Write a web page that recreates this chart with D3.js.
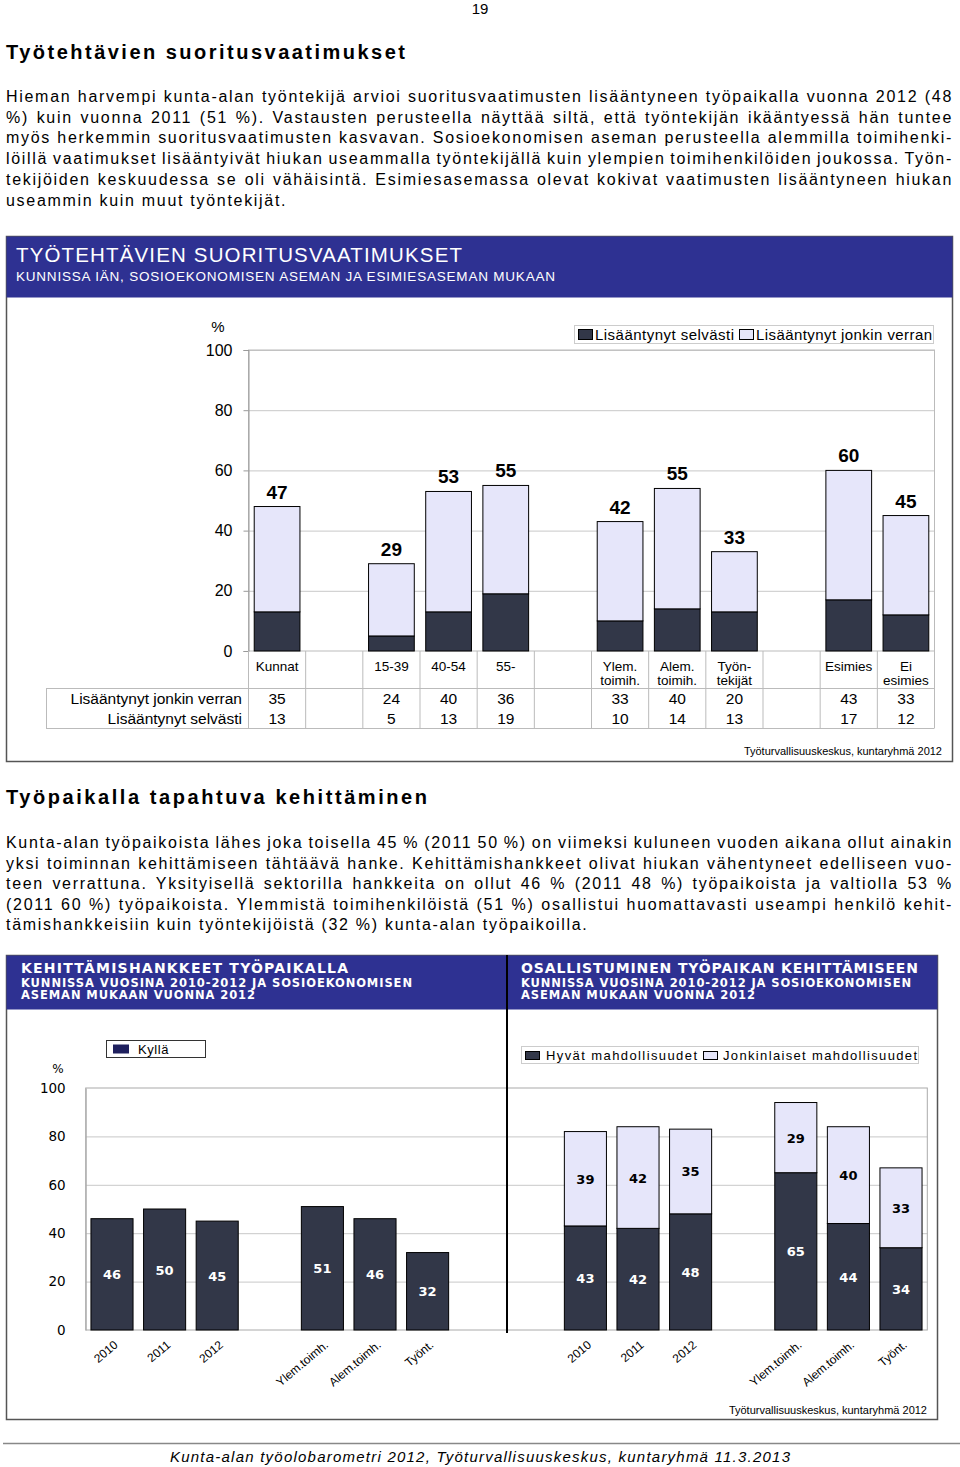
<!DOCTYPE html>
<html><head><meta charset="utf-8">
<script src="https://cdn.jsdelivr.net/npm/d3@7/dist/d3.min.js"></script>
<style>
html,body{margin:0;padding:0;background:#fff;}
svg{display:block;font-family:"Liberation Sans",Arial,sans-serif;}
text{fill:#000;}
</style></head>
<body>
<svg id="page" width="960" height="1467"></svg>
<script>
// ---------- DATA ----------
const para1 = [
 "Hieman harvempi kunta-alan työntekijä arvioi suoritusvaatimusten lisääntyneen työpaikalla vuonna 2012 (48",
 "%) kuin vuonna 2011 (51 %). Vastausten perusteella näyttää siltä, että työntekijän ikääntyessä hän tuntee",
 "myös herkemmin suoritusvaatimusten kasvavan. Sosioekonomisen aseman perusteella alemmilla toimihenki-",
 "löillä vaatimukset lisääntyivät hiukan useammalla työntekijällä kuin ylempien toimihenkilöiden joukossa. Työn-",
 "tekijöiden keskuudessa se oli vähäisintä. Esimiesasemassa olevat kokivat vaatimusten lisääntyneen hiukan",
 "useammin kuin muut työntekijät."
];
const para2 = [
 "Kunta-alan työpaikoista lähes joka toisella 45 % (2011 50 %) on viimeksi kuluneen vuoden aikana ollut ainakin",
 "yksi toiminnan kehittämiseen tähtäävä hanke. Kehittämishankkeet olivat hiukan vähentyneet edelliseen vuo-",
 "teen verrattuna. Yksityisellä sektorilla hankkeita on ollut 46 % (2011 48 %) työpaikoista ja valtiolla 53 %",
 "(2011 60 %) työpaikoista. Ylemmistä toimihenkilöistä (51 %) osallistui huomattavasti useampi henkilö kehit-",
 "tämishankkeisiin kuin työntekijöistä (32 %) kunta-alan työpaikoilla."
];

// Chart 1
const categories1 = ["Kunnat", "", "15-39", "40-54", "55-", "", "Ylem.|toimih.", "Alem.|toimih.", "Työn-|tekijät", "", "Esimies", "Ei|esimies"];
const selvasti = [13, null, 5, 13, 19, null, 10, 14, 13, null, 17, 12];
const jonkinVerran = [35, null, 24, 40, 36, null, 33, 40, 20, null, 43, 33];
const totals1 = [47, null, 29, 53, 55, null, 42, 55, 33, null, 60, 45];
const yTicks = [0, 20, 40, 60, 80, 100];
const series1Names = ["Lisääntynyt selvästi", "Lisääntynyt jonkin verran"];

// Chart 2
const categories2 = ["2010", "2011", "2012", "", "Ylem.toimh.", "Alem.toimh.", "Työnt."];
const kylla = [46, 50, 45, null, 51, 46, 32];
const hyvat = [43, 42, 48, null, 65, 44, 34];
const jonkinlaiset = [39, 42, 35, null, 29, 40, 33];
const series2Names = ["Hyvät mahdollisuudet", "Jonkinlaiset mahdollisuudet"];

// ---------- STYLE ----------
const BLUE = "#2e3192", DARK = "#323748", LIGHT = "#e6e6fa", NAVY = "#1f205e", GRID = "#c8c8c8";
const WIDE = "'DejaVu Sans', Verdana, sans-serif";

const svg = d3.select("#page");

function fit(sel, w) { sel.attr("textLength", w).attr("lengthAdjust", "spacing"); return sel; }
function justify(sel, w) {
  const node = sel.node();
  const spaces = (node.textContent.match(/ /g) || []).length;
  if (!spaces) return;
  let ws = 0;
  for (let k = 0; k < 3; k++) {
    const len = node.getComputedTextLength();
    ws += (w - len) / spaces;
    sel.style("word-spacing", ws + "px");
  }
}

// page number
svg.append("text").attr("x", 480).attr("y", 14).attr("text-anchor", "middle").attr("font-size", 15).text("19");

// heading 1
fit(svg.append("text").attr("x", 6).attr("y", 59).attr("font-size", 20).attr("font-weight", "bold")
  .text("Työtehtävien suoritusvaatimukset"), 399);

function paragraph(lines, y0, lh) {
  lines.forEach((l, i) => {
    const t = svg.append("text").attr("x", 6).attr("y", y0 + i * lh).attr("font-size", 16)
      .style("letter-spacing", "1.7px").text(l);
    if (i < lines.length - 1) justify(t, 947);
  });
}
paragraph(para1, 102, 20.7);

// ---------- CHART 1 ----------
const c1 = svg.append("g");
c1.append("rect").attr("x", 6.5).attr("y", 236.5).attr("width", 946).attr("height", 525)
  .attr("fill", "#fff").attr("stroke", "#555").attr("stroke-width", 1.5);
c1.append("rect").attr("x", 6.5).attr("y", 236.5).attr("width", 946).attr("height", 61).attr("fill", BLUE);
fit(c1.append("text").attr("x", 16).attr("y", 262).attr("font-size", 20.5)
  .style("fill", "#fff").text("TYÖTEHTÄVIEN SUORITUSVAATIMUKSET"), 446);
fit(c1.append("text").attr("x", 16).attr("y", 281).attr("font-size", 13.5).style("fill", "#fff")
  .text("KUNNISSA IÄN, SOSIOEKONOMISEN ASEMAN JA ESIMIESASEMAN MUKAAN"), 539);

const x1 = d3.scaleBand().domain(d3.range(categories1.length)).range([248.5, 934.5]).paddingInner(0.2).paddingOuter(0.1);
const y1 = d3.scaleLinear().domain([0, 100]).range([651, 350]);

// grid
c1.append("g").attr("transform", "translate(248.5,0)")
  .call(d3.axisLeft(y1).tickValues(yTicks.slice(1)).tickSize(-(934.5 - 248.5)).tickFormat(""))
  .call(g => g.select(".domain").remove())
  .call(g => g.selectAll("line").attr("stroke", GRID));
c1.append("rect").attr("x", 248.5).attr("y", 350).attr("width", 686).attr("height", 301)
  .attr("fill", "none").attr("stroke", "#bbb");
// axis
c1.append("g").attr("transform", "translate(248.5,0)")
  .call(d3.axisLeft(y1).tickValues(yTicks).tickSize(5).tickPadding(11))
  .call(g => g.select(".domain").attr("stroke", "#999"))
  .call(g => g.selectAll("line").attr("stroke", "#999"))
  .call(g => g.selectAll("text").style("font-size", "16px").style("font-family", "'Liberation Sans', Arial"));
c1.append("text").attr("x", 218).attr("y", 332).attr("text-anchor", "middle").attr("font-size", 15).text("%");

// bars
const idx1 = d3.range(categories1.length).filter(i => selvasti[i] != null);
c1.selectAll(".b1d").data(idx1).join("rect")
  .attr("x", i => x1(i)).attr("width", x1.bandwidth())
  .attr("y", i => y1(selvasti[i])).attr("height", i => y1(0) - y1(selvasti[i]))
  .attr("fill", DARK).attr("stroke", "#000").attr("stroke-width", 1);
c1.selectAll(".b1l").data(idx1).join("rect")
  .attr("x", i => x1(i)).attr("width", x1.bandwidth())
  .attr("y", i => y1(selvasti[i] + jonkinVerran[i])).attr("height", i => y1(selvasti[i]) - y1(selvasti[i] + jonkinVerran[i]))
  .attr("fill", LIGHT).attr("stroke", "#000").attr("stroke-width", 1);
c1.selectAll(".lab1").data(idx1).join("text")
  .attr("x", i => x1(i) + x1.bandwidth() / 2).attr("y", i => y1(selvasti[i] + jonkinVerran[i]) - 8)
  .attr("text-anchor", "middle").attr("font-size", 19).attr("font-weight", "bold")
  .text(i => totals1[i]);

// legend
const lg1 = c1.append("g");
lg1.append("rect").attr("x", 574.5).attr("y", 325.5).attr("width", 359).attr("height", 18)
  .attr("fill", "#fff").attr("stroke", "#ccc");
lg1.append("rect").attr("x", 578.5).attr("y", 329.5).attr("width", 14).attr("height", 10).attr("fill", DARK).attr("stroke", "#000");
fit(lg1.append("text").attr("x", 595).attr("y", 339.5).attr("font-size", 15).text(series1Names[0]), 139);
lg1.append("rect").attr("x", 739.5).attr("y", 329.5).attr("width", 14).attr("height", 10).attr("fill", LIGHT).attr("stroke", "#000");
fit(lg1.append("text").attr("x", 756).attr("y", 339.5).attr("font-size", 15).text(series1Names[1]), 176);

// table
const tbl = c1.append("g").attr("stroke", "#bbb").attr("stroke-width", 1);
d3.range(categories1.length + 1).forEach(i => {
  const xb = x1.range()[0] + i * x1.step();
  tbl.append("line").attr("x1", xb).attr("x2", xb).attr("y1", 651).attr("y2", 728);
});
tbl.append("line").attr("x1", 46).attr("x2", 934.5).attr("y1", 688.5).attr("y2", 688.5);
tbl.append("line").attr("x1", 46).attr("x2", 934.5).attr("y1", 728.5).attr("y2", 728.5);
tbl.append("line").attr("x1", 46.5).attr("x2", 46.5).attr("y1", 688.5).attr("y2", 728.5);

categories1.forEach((c, i) => {
  if (!c) return;
  const cx = x1(i) + x1.bandwidth() / 2;
  c.split("|").forEach((p, k) => {
    c1.append("text").attr("x", cx).attr("y", 671 + k * 14).attr("text-anchor", "middle")
      .attr("font-size", 13.5).text(p);
  });
});
const rows1 = [[series1Names[1], jonkinVerran], [series1Names[0], selvasti]];
rows1.forEach(([name, vals], r) => {
  const yy = 703.5 + r * 20;
  c1.append("text").attr("x", 242).attr("y", yy).attr("text-anchor", "end").attr("font-size", 15.5).text(name);
  vals.forEach((v, i) => {
    if (v == null) return;
    c1.append("text").attr("x", x1(i) + x1.bandwidth() / 2).attr("y", yy).attr("text-anchor", "middle")
      .attr("font-size", 15.5).text(v);
  });
});
c1.append("text").attr("x", 942).attr("y", 755).attr("text-anchor", "end").attr("font-size", 11)
  .text("Työturvallisuuskeskus, kuntaryhmä 2012");

// heading 2
fit(svg.append("text").attr("x", 6).attr("y", 804).attr("font-size", 20).attr("font-weight", "bold")
  .text("Työpaikalla tapahtuva kehittäminen"), 421);
paragraph(para2, 848, 20.5);

// ---------- CHART 2 ----------
const c2 = svg.append("g");
c2.append("rect").attr("x", 6.5).attr("y", 955.5).attr("width", 931).attr("height", 464)
  .attr("fill", "#fff").attr("stroke", "#555").attr("stroke-width", 1.5);
c2.append("rect").attr("x", 6.5).attr("y", 955.5).attr("width", 500).attr("height", 54).attr("fill", BLUE);
c2.append("rect").attr("x", 507.5).attr("y", 955.5).attr("width", 430).attr("height", 54).attr("fill", BLUE);
const heads = [
  [21, ["KEHITTÄMISHANKKEET  TYÖPAIKALLA", "KUNNISSA VUOSINA 2010-2012 JA SOSIOEKONOMISEN", "ASEMAN MUKAAN VUONNA 2012"], [327, 391, 234]],
  [521, ["OSALLISTUMINEN TYÖPAIKAN KEHITTÄMISEEN", "KUNNISSA VUOSINA 2010-2012 JA SOSIOEKONOMISEN", "ASEMAN MUKAAN VUONNA 2012"], [397, 390, 234]]
];
heads.forEach(([hx, lines, ws]) => {
  lines.forEach((l, k) => {
    fit(c2.append("text").attr("x", hx).attr("y", k === 0 ? 973 : 986.5 + (k - 1) * 12.5)
      .style("font-family", WIDE)
      .attr("font-size", k === 0 ? 14 : 11.5).attr("font-weight", "bold").style("fill", "#fff").text(l), ws[k]);
  });
});

const x2 = d3.scaleBand().domain(d3.range(16)).range([85.7, 927.3]).paddingInner(0.2).paddingOuter(0.1);
const y2 = d3.scaleLinear().domain([0, 100]).range([1330, 1088]);
const RIGHT_OFFSET = 9;

c2.append("g").attr("transform", "translate(85.7,0)")
  .call(d3.axisLeft(y2).tickValues(yTicks.slice(1, 5)).tickSize(-(927.3 - 85.7)).tickFormat(""))
  .call(g => g.select(".domain").remove())
  .call(g => g.selectAll("line").attr("stroke", GRID));
c2.append("rect").attr("x", 85.7).attr("y", 1088).attr("width", 841.6).attr("height", 242)
  .attr("fill", "none").attr("stroke", "#aaa");
c2.append("g").attr("transform", "translate(85.7,0)")
  .call(d3.axisLeft(y2).tickValues(yTicks).tickSize(0).tickPadding(20))
  .call(g => g.select(".domain").attr("stroke", "#aaa"))
  .call(g => g.selectAll("text").style("font-size", "13.5px").style("font-family", WIDE));
c2.append("text").attr("x", 58).attr("y", 1073).attr("text-anchor", "middle").attr("font-size", 12)
  .style("font-family", WIDE).text("%");

// divider
c2.append("line").attr("x1", 507).attr("x2", 507).attr("y1", 955).attr("y2", 1333)
  .attr("stroke", "#000").attr("stroke-width", 2);

// left bars
const idxL = d3.range(categories2.length).filter(i => kylla[i] != null);
c2.selectAll(".bL").data(idxL).join("rect")
  .attr("x", i => x2(i)).attr("width", x2.bandwidth())
  .attr("y", i => y2(kylla[i])).attr("height", i => y2(0) - y2(kylla[i]))
  .attr("fill", DARK).attr("stroke", "#000");
c2.selectAll(".lL").data(idxL).join("text")
  .attr("x", i => x2(i) + x2.bandwidth() / 2).attr("y", i => (y2(kylla[i]) + y2(0)) / 2 + 5)
  .attr("text-anchor", "middle").attr("font-size", 13).attr("font-weight", "bold")
  .style("font-family", WIDE).style("fill", "#fff").text(i => kylla[i]);

// right bars
const idxR = d3.range(categories2.length).filter(i => hyvat[i] != null);
c2.selectAll(".bRd").data(idxR).join("rect")
  .attr("x", i => x2(i + RIGHT_OFFSET)).attr("width", x2.bandwidth())
  .attr("y", i => y2(hyvat[i])).attr("height", i => y2(0) - y2(hyvat[i]))
  .attr("fill", DARK).attr("stroke", "#000");
c2.selectAll(".bRl").data(idxR).join("rect")
  .attr("x", i => x2(i + RIGHT_OFFSET)).attr("width", x2.bandwidth())
  .attr("y", i => y2(hyvat[i] + jonkinlaiset[i])).attr("height", i => y2(hyvat[i]) - y2(hyvat[i] + jonkinlaiset[i]))
  .attr("fill", LIGHT).attr("stroke", "#000");
c2.selectAll(".lRd").data(idxR).join("text")
  .attr("x", i => x2(i + RIGHT_OFFSET) + x2.bandwidth() / 2).attr("y", i => (y2(hyvat[i]) + y2(0)) / 2 + 5)
  .attr("text-anchor", "middle").attr("font-size", 13).attr("font-weight", "bold")
  .style("font-family", WIDE).style("fill", "#fff").text(i => hyvat[i]);
c2.selectAll(".lRl").data(idxR).join("text")
  .attr("x", i => x2(i + RIGHT_OFFSET) + x2.bandwidth() / 2)
  .attr("y", i => (y2(hyvat[i]) + y2(hyvat[i] + jonkinlaiset[i])) / 2 + 5)
  .attr("text-anchor", "middle").attr("font-size", 13).attr("font-weight", "bold")
  .style("font-family", WIDE).text(i => jonkinlaiset[i]);

// x labels
[0, RIGHT_OFFSET].forEach(off => {
  categories2.forEach((c, i) => {
    if (!c) return;
    const cx = x2(i + off) + x2.bandwidth() / 2 + 4;
    c2.append("text").attr("transform", `translate(${cx},1343) rotate(-40)`)
      .attr("text-anchor", "end").attr("dy", "0.35em").attr("font-size", 12).text(c);
  });
});

// legends
c2.append("rect").attr("x", 106.5).attr("y", 1040.5).attr("width", 99).attr("height", 17)
  .attr("fill", "#fff").attr("stroke", "#333");
c2.append("rect").attr("x", 113).attr("y", 1044.5).attr("width", 16).attr("height", 9).attr("fill", NAVY);
c2.append("text").attr("x", 138).attr("y", 1053.5).attr("font-size", 13).style("letter-spacing", "0.6px").text("Kyllä");

c2.append("rect").attr("x", 521.5).attr("y", 1046.5).attr("width", 397).attr("height", 17)
  .attr("fill", "#fff").attr("stroke", "#ccc");
c2.append("rect").attr("x", 525.5).attr("y", 1051.5).attr("width", 14).attr("height", 8).attr("fill", DARK).attr("stroke", "#000");
fit(c2.append("text").attr("x", 546).attr("y", 1060).attr("font-size", 13).text(series2Names[0]), 151);
c2.append("rect").attr("x", 703.5).attr("y", 1051.5).attr("width", 14).attr("height", 8).attr("fill", LIGHT).attr("stroke", "#000");
fit(c2.append("text").attr("x", 723).attr("y", 1060).attr("font-size", 13).text(series2Names[1]), 194);

c2.append("text").attr("x", 927).attr("y", 1414).attr("text-anchor", "end").attr("font-size", 11)
  .text("Työturvallisuuskeskus, kuntaryhmä 2012");

// footer
svg.append("line").attr("x1", 3).attr("x2", 960).attr("y1", 1443.5).attr("y2", 1443.5).attr("stroke", "#888").attr("stroke-width", 1.5);
fit(svg.append("text").attr("x", 170).attr("y", 1462).attr("font-size", 15).attr("font-style", "italic")
  .text("Kunta-alan työolobarometri 2012, Työturvallisuuskeskus, kuntaryhmä 11.3.2013"), 620);
</script>
</body></html>
